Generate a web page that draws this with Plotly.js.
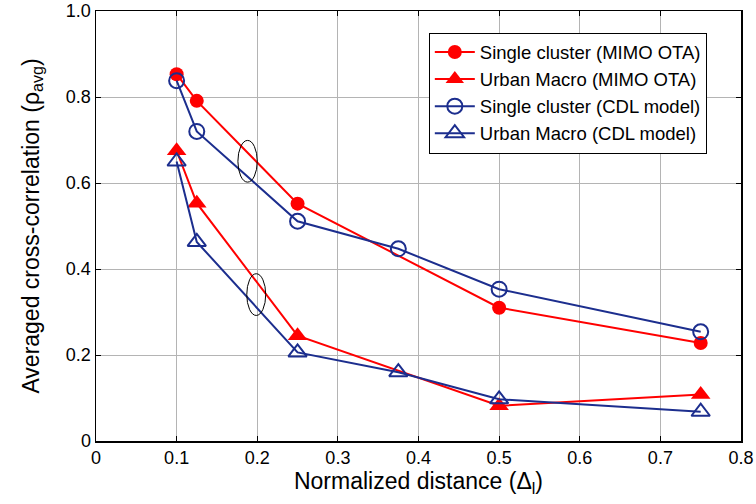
<!DOCTYPE html>
<html>
<head>
<meta charset="utf-8">
<script src="https://cdn.plot.ly/plotly-3.0.1.min.js"></script>
<style>html,body{margin:0;padding:0;background:#fff;}#chart{width:756px;height:504px;}</style>
</head>
<body>
<div id="chart"></div>
<script>
// Data
const xSingleOTA = [0.1, 0.125, 0.25, 0.5, 0.75];
const ySingleOTA = [0.853, 0.791, 0.552, 0.310, 0.228];
const xUrbanOTA = [0.1, 0.125, 0.25, 0.5, 0.75];
const yUrbanOTA = [0.675, 0.553, 0.245, 0.082, 0.108];
const xSingleCDL = [0.1, 0.125, 0.25, 0.375, 0.5, 0.75];
const ySingleCDL = [0.838, 0.720, 0.511, 0.447, 0.353, 0.254];
const xUrbanCDL = [0.1, 0.125, 0.25, 0.375, 0.5, 0.75];
const yUrbanCDL = [0.650, 0.463, 0.206, 0.160, 0.097, 0.068];
const seriesNames = ["Single cluster (MIMO OTA)", "Urban Macro (MIMO OTA)", "Single cluster (CDL model)", "Urban Macro (CDL model)"];
const xTicks = [0, 0.1, 0.2, 0.3, 0.4, 0.5, 0.6, 0.7, 0.8];
const xTickText = ["0", "0.1", "0.2", "0.3", "0.4", "0.5", "0.6", "0.7", "0.8"];
const yTicks = [0, 0.2, 0.4, 0.6, 0.8, 1.0];
const yTickText = ["0", "0.2", "0.4", "0.6", "0.8", "1.0"];
// Annotation ellipses (data-coordinate bounds)
const ellipse1 = {x0: 0.176, x1: 0.200, y0: 0.602, y1: 0.699};
const ellipse2 = {x0: 0.187, x1: 0.2105, y0: 0.292, y1: 0.389};

const RED = "#ff0000";
const BLUE = "#1c2e8e";

const traces = [
  {x: xSingleOTA, y: ySingleOTA, name: seriesNames[0], mode: "lines+markers",
   line: {color: RED, width: 2}, marker: {symbol: "circle", size: 14, color: RED}},
  {x: xUrbanOTA, y: yUrbanOTA, name: seriesNames[1], mode: "lines+markers",
   line: {color: RED, width: 2}, marker: {symbol: "triangle-up", size: 17, color: RED}},
  {x: xSingleCDL, y: ySingleCDL, name: seriesNames[2], mode: "lines+markers",
   line: {color: BLUE, width: 2}, marker: {symbol: "circle-open", size: 15, color: BLUE, line: {width: 2, color: BLUE}}},
  {x: xUrbanCDL, y: yUrbanCDL, name: seriesNames[3], mode: "lines+markers",
   line: {color: BLUE, width: 2}, marker: {symbol: "triangle-up-open", size: 16, color: BLUE, line: {width: 2, color: BLUE}}}
];

const FONT = "Liberation Sans, Arial, sans-serif";
const axisCommon = {
  showline: true, mirror: "ticks", linecolor: "#000", linewidth: 1.5,
  ticks: "inside", ticklen: 5, tickcolor: "#000", tickwidth: 1,
  showgrid: true, gridcolor: "#b4b4b4", gridwidth: 1,
  zeroline: false, tickfont: {family: FONT, size: 18, color: "#000"}
};

const layout = {
  width: 756, height: 504,
  margin: {l: 96, r: 15, t: 11, b: 63},
  paper_bgcolor: "#fff", plot_bgcolor: "#fff",
  font: {family: FONT, color: "#000"},
  showlegend: true,
  legend: {x: 0.516, y: 0.95, xanchor: "left", yanchor: "top",
    bgcolor: "#fff", bordercolor: "#000", borderwidth: 1,
    font: {family: FONT, size: 18.5, color: "#000"},
    tracegroupgap: 0, itemwidth: 40},
  xaxis: Object.assign({}, axisCommon, {
    range: [0, 0.8], tickvals: xTicks, ticktext: xTickText, automargin: false,
    title: {text: "Normalized distance (Δ<sub>l</sub>)", font: {family: FONT, size: 23, color: "#000"}, standoff: 4}
  }),
  yaxis: Object.assign({}, axisCommon, {
    range: [0, 1.0], tickvals: yTicks, ticktext: yTickText, automargin: false,
    title: {text: "Averaged cross-correlation (ρ<sub>avg</sub>)", font: {family: FONT, size: 23, color: "#000"}, standoff: 20}
  }),
  shapes: [
    {type: "circle", xref: "x", yref: "y", x0: ellipse1.x0, x1: ellipse1.x1, y0: ellipse1.y0, y1: ellipse1.y1,
     line: {color: "#000", width: 1}},
    {type: "circle", xref: "x", yref: "y", x0: ellipse2.x0, x1: ellipse2.x1, y0: ellipse2.y0, y1: ellipse2.y1,
     line: {color: "#000", width: 1}}
  ]
};

Plotly.newPlot("chart", traces, layout, {displayModeBar: false, staticPlot: true});
</script>
</body>
</html>
